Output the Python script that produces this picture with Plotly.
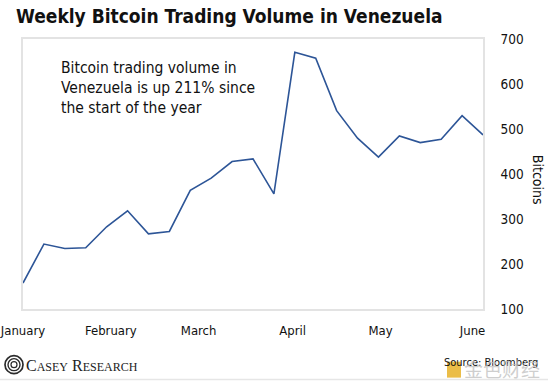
import plotly.graph_objects as go

weeks = list(range(23))
volume = [157.7, 244.3, 234.5, 236.0, 282.7, 318.2, 267.1, 272.3, 363.7, 390.8,
          427.6, 433.6, 356.0, 670.5, 657.2, 540.8, 479.6, 437.4, 484.7, 469.8,
          477.4, 529.7, 486.9]
month_labels = ["January", "February", "March", "April", "May", "June"]
month_weeks = [0, 4.2, 8.4, 12.9, 17.1, 21.5]
y_ticks = [100, 200, 300, 400, 500, 600, 700]

FONT = "DejaVu Sans Condensed, Liberation Sans, Arial, sans-serif"

L, T, PW, PH = 23, 39, 460, 270.3


def px(x):
    return (x - L) / PW


def py(y):
    return (T + PH - y) / PH


fig = go.Figure()
fig.add_trace(go.Scatter(x=weeks, y=volume, mode="lines",
                         line=dict(color="#2d5597", width=1.6),
                         hoverinfo="skip", showlegend=False))

fig.update_layout(
    width=548, height=382,
    margin=dict(l=L, r=548 - L - PW, t=T, b=382 - T - PH),
    paper_bgcolor="white", plot_bgcolor="white",
    font=dict(family=FONT, color="#111111"),
    xaxis=dict(range=[0, 22], tickvals=month_weeks, ticktext=month_labels,
               showgrid=False, zeroline=False, showline=True, mirror=True,
               linecolor="#e3e3e3", linewidth=1.5, ticks="",
               ticklabelstandoff=9, ticklabeloverflow="allow",
               tickfont=dict(size=13, family=FONT),
               automargin=False),
    yaxis=dict(range=[100, 700], tickvals=y_ticks, side="right",
               showgrid=False, zeroline=False, showline=True, mirror=True,
               linecolor="#e3e3e3", linewidth=1.5, ticks="",
               ticklabelstandoff=13, ticklabeloverflow="allow",
               tickfont=dict(size=13.5, family=FONT),
               automargin=False),
)

# Title
fig.add_annotation(text="<b>Weekly Bitcoin Trading Volume in Venezuela</b>",
                   xref="paper", yref="paper", x=px(14), y=py(3),
                   xanchor="left", yanchor="top", showarrow=False,
                   font=dict(size=19, family=FONT, color="#111111"))

# Inset note
fig.add_annotation(text="Bitcoin trading volume in<br>Venezuela is up 211% since<br>the start of the year",
                   xref="paper", yref="paper", x=px(59), y=py(57),
                   xanchor="left", yanchor="top", align="left", showarrow=False,
                   font=dict(size=15.5, family=FONT, color="#111111"))

# Axis title
fig.add_annotation(text="Bitcoins", xref="paper", yref="paper",
                   x=px(538), y=py(180), textangle=90,
                   xanchor="center", yanchor="middle", showarrow=False,
                   font=dict(size=14, family=FONT, color="#111111"))

# Casey Research logo
cx, cy = 14, 365
for r, w in [(9, 1.7), (6, 1.4), (3, 1.2)]:
    fig.add_shape(type="circle", xref="paper", yref="paper",
                  xsizemode="pixel", ysizemode="pixel",
                  xanchor=px(cx), yanchor=py(cy),
                  x0=-r, x1=r, y0=-r, y1=r,
                  line=dict(color="#2b2b2b", width=w))

fig.add_annotation(text="C<span style='font-size:12px'>ASEY</span> R<span style='font-size:12px'>ESEARCH</span>",
                   xref="paper", yref="paper", x=px(24), y=py(366),
                   xanchor="left", yanchor="middle", showarrow=False,
                   font=dict(size=16, family="Liberation Serif, Times New Roman, serif", color="#222222"))

# Source + watermark
fig.add_annotation(text="Source: Bloomberg", xref="paper", yref="paper",
                   x=px(442), y=py(363),
                   xanchor="left", yanchor="middle", showarrow=False,
                   font=dict(size=11, family=FONT, color="#111111"))
fig.add_shape(type="rect", xref="paper", yref="paper",
              x0=px(447), x1=px(461), y0=py(378), y1=py(362),
              fillcolor="rgba(232,178,40,0.85)", line=dict(width=0))
fig.add_annotation(text="金色财经", xref="paper", yref="paper",
                   x=px(462), y=py(369),
                   xanchor="left", yanchor="middle", showarrow=False,
                   font=dict(size=19, family="Noto Sans CJK SC", color="rgba(190,190,190,0.75)"))

# bottom separator
fig.add_shape(type="line", xref="paper", yref="paper",
              x0=px(0), x1=px(548), y0=py(380), y1=py(380),
              line=dict(color="#e6e6e6", width=1.5))

fig.write_html("out.html", config={"displayModeBar": False},
               post_script="document.body.style.margin='0';")
